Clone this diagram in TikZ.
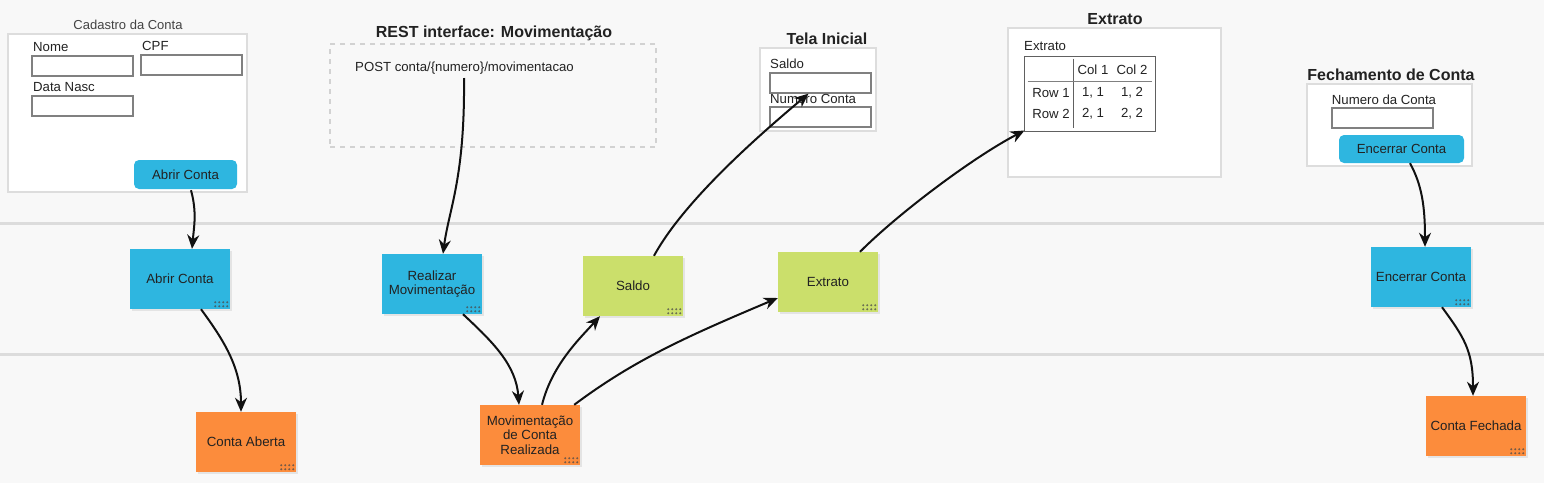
\documentclass[tikz,border=0pt]{standalone}
\usepackage{fontspec}
\setmainfont{Liberation Sans}
\usetikzlibrary{arrows.meta,calc,shadows}
\definecolor{bg}{HTML}{F8F8F8}
\definecolor{lane}{HTML}{DCDCDC}
\definecolor{frame}{HTML}{DDDDDD}
\definecolor{dashc}{HTML}{D2D2D2}
\definecolor{inputc}{HTML}{808080}
\definecolor{btnblue}{HTML}{2EB6E0}
\definecolor{stblue}{HTML}{2EB6E0}
\definecolor{storange}{HTML}{FC8C3C}
\definecolor{stgreen}{HTML}{CBDF6B}
\definecolor{txt}{HTML}{222222}
\definecolor{arr}{HTML}{111111}
\definecolor{dotc}{HTML}{4A4A4A}
\definecolor{tblc}{HTML}{606060}
\newcommand\fsz[2]{\fontsize{#1}{#2}\selectfont}
\newcommand\stickydots[1]{%
  \foreach \i in {0,1,2,3}{\foreach \j in {0,1}{%
    \fill[dotc,opacity=0.75] ($(#1.south east)+(-15+4*\i,-7+4*\j)$) circle[radius=1.1pt];}}}
\tikzset{
  formbox/.style={draw=frame, line width=2pt, fill=white, inner sep=0pt},
  inputbox/.style={draw=inputc, line width=1.3pt, fill=white, minimum width=101, minimum height=20, inner sep=0pt},
  lbl/.style={font=\fsz{13.2}{15}, inner sep=0pt, anchor=west, text=txt},
  cell/.style={font=\fsz{13.2}{15}, inner sep=0pt, text=txt},
  button/.style={fill=btnblue, rounded corners=5pt, inner sep=0pt, font=\fsz{13.2}{15}, text=txt},
  sticky/.style={minimum width=100, minimum height=60, inner sep=3pt, align=center,
     font=\fsz{13.3}{14.5}, text=txt,
     drop shadow={shadow xshift=1.5pt, shadow yshift=-2pt, opacity=0.08, fill=black}},
  title/.style={font=\bfseries\fsz{16}{18}, text=txt, inner sep=0pt},
  conn/.style={draw=arr, line width=2pt, -{Stealth[length=14pt,width=12pt,inset=4.5pt]}}
}
\begin{document}
\begin{tikzpicture}[x=1pt,y=-1pt]
\fill[bg] (0,0) rectangle (1544,483);
\useasboundingbox (0,0) rectangle (1544,483);
% lanes
\draw[lane, line width=3pt] (0,223) -- (1544,223);
\draw[lane, line width=3pt] (0,354) -- (1544,354);

% Cadastro da Conta
\node[font=\fsz{13}{15}, text=txt!85, inner sep=0pt] (cadTitle) at (128,25) {Cadastro da Conta};
\node[formbox, minimum width=239, minimum height=158] (cad) at (127.5,113) {};
\node[lbl] (nomeLbl) at (33,47) {Nome};
\node[inputbox] (nomeIn) at (82.5,66) {};
\node[lbl] (cpfLbl) at (142,46) {CPF};
\node[inputbox] (cpfIn) at (191.5,65) {};
\node[lbl] (dataLbl) at (33,87) {Data Nasc};
\node[inputbox] (dataIn) at (82.5,106) {};
\node[button, minimum width=103, minimum height=29] (btnAbrir) at (185.5,174.5) {Abrir Conta};

% REST interface
\node[title] (restTitle) at (494,33) {REST interface: Movimentação};
\node[draw=dashc, line width=1.5pt, dash pattern=on 5pt off 5pt, minimum width=326, minimum height=103, inner sep=0pt] (rest) at (493,95.5) {};
\node[lbl] (post) at (355,68) {POST conta/\{numero\}/movimentacao};
\coordinate (postpt) at (464,78);

% Tela Inicial
\node[title] (telaTitle) at (827,39) {Tela Inicial};
\node[formbox, minimum width=116, minimum height=83] (tela) at (818,89.5) {};
\node[lbl] (saldoLbl) at (770,64) {Saldo};
\node[inputbox] (saldoIn) at (820.5,83) {};
\node[lbl] (numLbl) at (770,99) {Numero Conta};
\node[inputbox] (numIn) at (820.5,117) {};

% Extrato
\node[title] (extTitle) at (1115,19) {Extrato};
\node[formbox, minimum width=213, minimum height=149] (ext) at (1114.5,102.5) {};
\node[lbl] (extLbl) at (1024,46) {Extrato};
\node[draw=tblc, line width=1pt, minimum width=131, minimum height=75, inner sep=0pt] (tbl) at (1089.5,93.5) {};
\draw[tblc, line width=1pt] ($(tbl.north west)+(50,3)$) -- ($(tbl.south west)+(50,-4)$);
\draw[tblc!80, line width=1.3pt] ($(tbl.north west)+(4,26)$) -- ($(tbl.north east)+(-4,26)$);
\node[cell] (c1) at (1093,70) {Col 1};
\node[cell] (c2) at (1132,70) {Col 2};
\node[cell] (r1) at (1051,93) {Row 1};
\node[cell] (v11) at (1093,93) {1, 1};
\node[cell] (v12) at (1132,93) {1, 2};
\node[cell] (r2) at (1051,114) {Row 2};
\node[cell] (v21) at (1093,114) {2, 1};
\node[cell] (v22) at (1132,114) {2, 2};

% Fechamento de Conta
\node[title] (fechTitle) at (1391,75) {Fechamento de Conta};
\node[formbox, minimum width=165, minimum height=82] (fech) at (1389.5,125) {};
\node[cell] (numContaLbl) at (1384,100) {Numero da Conta};
\node[inputbox] (numContaIn) at (1382.5,118) {};
\node[button, minimum width=125, minimum height=28] (btnEnc) at (1401.5,149) {Encerrar Conta};

% sticky notes
\node[sticky, fill=stblue] (sAbrir) at (180,279) {Abrir Conta};
\node[sticky, fill=storange] (sAberta) at (246,442) {Conta Aberta};
\node[sticky, fill=stblue] (sReal) at (432,284) {Realizar\\Movimentação};
\node[sticky, fill=stgreen] (sSaldo) at (633,286) {Saldo};
\node[sticky, fill=storange] (sMov) at (530,435) {Movimentação\\de Conta\\Realizada};
\node[sticky, fill=stgreen] (sExt) at (828,282) {Extrato};
\node[sticky, fill=stblue] (sEnc) at (1421,277) {Encerrar Conta};
\node[sticky, fill=storange] (sFech) at (1476,426) {Conta Fechada};
\stickydots{sAbrir}
\stickydots{sAberta}
\stickydots{sReal}
\stickydots{sSaldo}
\stickydots{sMov}
\stickydots{sExt}
\stickydots{sEnc}
\stickydots{sFech}

% connectors
\draw[conn] ($(btnAbrir.south)+(5.5,1)$) .. controls +(6,22) and +(2,-22) .. ($(sAbrir.north)+(12,0)$);
\draw[conn] ($(sAbrir.south)+(21,0)$) .. controls +(22,30) and +(0,-45) .. ($(sAberta.north)+(-5,0)$);
\draw[conn] (postpt) .. controls +(1,100) and +(6,-45) .. ($(sReal.north)+(11,0)$);
\draw[conn] ($(sReal.south)+(31,0)$) .. controls +(30,28) and +(-3,-40) .. ($(sMov.north)+(-11,0)$);
\draw[conn] ($(sMov.north)+(12,0)$) .. controls +(10,-40) and +(-20,22) .. ($(sSaldo.south)+(-33,0)$);
\draw[conn] ($(sMov.north east)+(-6,0)$) .. controls +(60,-45) and +(-90,38) .. ($(sExt.west)+(0,16)$);
\draw[conn] ($(sSaldo.north)+(21,0)$) .. controls +(30,-55) and +(-50,42) .. ($(saldoIn.south)+(-12,0)$);
\draw[conn] ($(sExt.north)+(32,0)$) .. controls +(40,-40) and +(-50,26) .. ($(tbl.south west)+(1,-1)$);
\draw[conn] ($(btnEnc.south)+(8.5,0)$) .. controls +(12,22) and +(0,-40) .. ($(sEnc.north)+(4,0)$);
\draw[conn] ($(sEnc.south)+(21,0)$) .. controls +(22,30) and +(0,-45) .. ($(sFech.north)+(-3,0)$);
\end{tikzpicture}
\end{document}
